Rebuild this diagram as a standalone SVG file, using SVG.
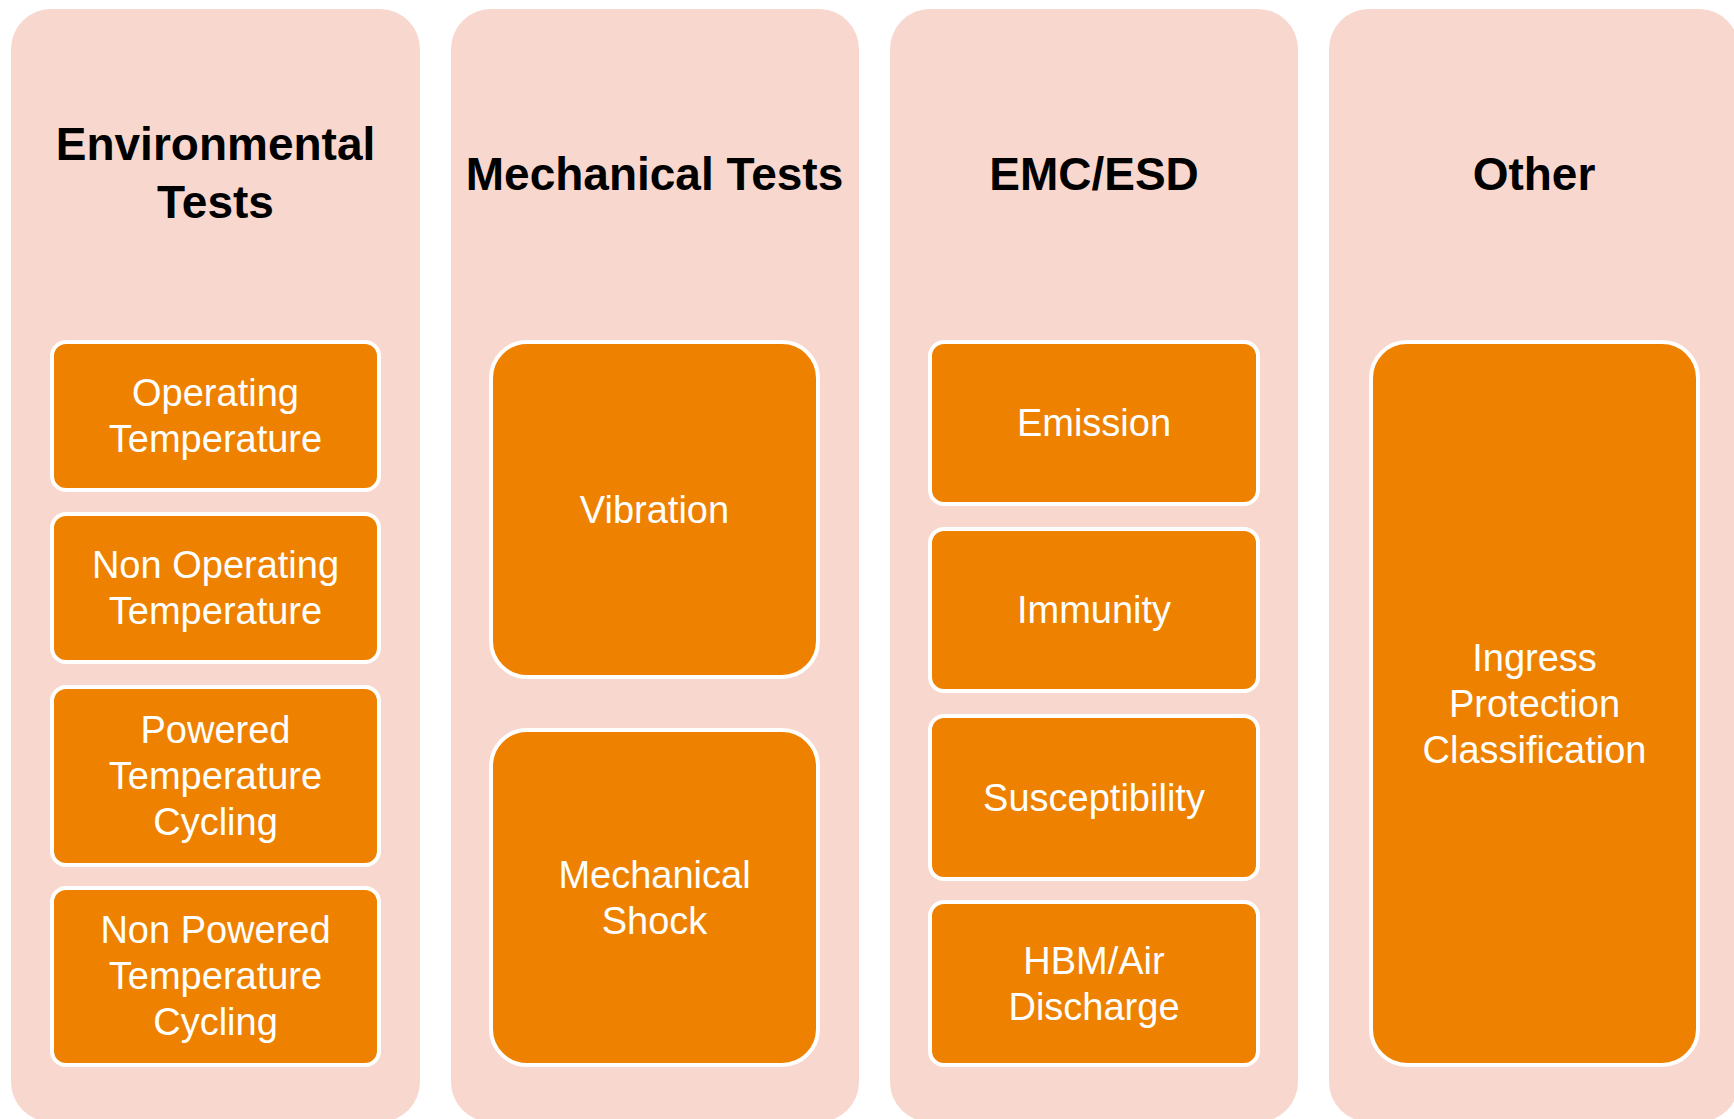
<svg xmlns="http://www.w3.org/2000/svg" width="1734" height="1119" viewBox="0 0 1734 1119">
<style>
.col{fill:#F8D8CE;}
.box{fill:#EE8200;stroke:#FFFFFF;stroke-width:4;}
.title{font-family:"Liberation Sans",Arial,sans-serif;font-weight:bold;font-size:46px;fill:#000000;text-anchor:middle;}
.lbl{font-family:"Liberation Sans",Arial,sans-serif;font-size:38px;fill:#FFFFFF;text-anchor:middle;}
</style>
<rect x="0" y="0" width="1734" height="1119" fill="#FFFFFF"/>
<g id="connectors"></g>
<g id="col-environmental">
<rect class="col" x="11" y="9" width="409" height="1113" rx="40"/>
<text class="title" x="215.5"><tspan x="215.5" y="160">Environmental</tspan><tspan x="215.5" y="218">Tests</tspan></text>
</g>
<g id="col-mechanical">
<rect class="col" x="451" y="9" width="408" height="1113" rx="40"/>
<text class="title" x="654.5" y="190">Mechanical Tests</text>
</g>
<g id="col-emc">
<rect class="col" x="890" y="9" width="408" height="1113" rx="40"/>
<text class="title" x="1094" y="190">EMC/ESD</text>
</g>
<g id="col-other">
<rect class="col" x="1329" y="9" width="410" height="1113" rx="40"/>
<text class="title" x="1534" y="190">Other</text>
</g>
<g id="node-operating-temperature">
<rect class="box" x="52" y="342" width="327" height="148" rx="14"/>
<text class="lbl"><tspan x="215.5" y="406">Operating</tspan><tspan x="215.5" y="452">Temperature</tspan></text>
</g>
<g id="node-non-operating-temperature">
<rect class="box" x="52" y="514" width="327" height="148" rx="14"/>
<text class="lbl"><tspan x="215.5" y="578">Non Operating</tspan><tspan x="215.5" y="624">Temperature</tspan></text>
</g>
<g id="node-powered-temperature-cycling">
<rect class="box" x="52" y="687" width="327" height="178" rx="14"/>
<text class="lbl"><tspan x="215.5" y="743">Powered</tspan><tspan x="215.5" y="789">Temperature</tspan><tspan x="215.5" y="835">Cycling</tspan></text>
</g>
<g id="node-non-powered-temperature-cycling">
<rect class="box" x="52" y="888" width="327" height="177" rx="14"/>
<text class="lbl"><tspan x="215.5" y="943">Non Powered</tspan><tspan x="215.5" y="989">Temperature</tspan><tspan x="215.5" y="1035">Cycling</tspan></text>
</g>
<g id="node-vibration">
<rect class="box" x="491" y="342" width="327" height="335" rx="36"/>
<text class="lbl" x="654.5" y="523">Vibration</text>
</g>
<g id="node-mechanical-shock">
<rect class="box" x="491" y="730" width="327" height="335" rx="36"/>
<text class="lbl"><tspan x="654.5" y="888">Mechanical</tspan><tspan x="654.5" y="934">Shock</tspan></text>
</g>
<g id="node-emission">
<rect class="box" x="930" y="342" width="328" height="162" rx="14"/>
<text class="lbl" x="1094" y="436">Emission</text>
</g>
<g id="node-immunity">
<rect class="box" x="930" y="529" width="328" height="162" rx="14"/>
<text class="lbl" x="1094" y="623">Immunity</text>
</g>
<g id="node-susceptibility">
<rect class="box" x="930" y="716" width="328" height="163" rx="14"/>
<text class="lbl" x="1094" y="811">Susceptibility</text>
</g>
<g id="node-hbm-air-discharge">
<rect class="box" x="930" y="902" width="328" height="163" rx="14"/>
<text class="lbl"><tspan x="1094" y="974">HBM/Air</tspan><tspan x="1094" y="1020">Discharge</tspan></text>
</g>
<g id="node-ingress-protection">
<rect class="box" x="1371" y="342" width="327" height="723" rx="36"/>
<text class="lbl"><tspan x="1534.5" y="671">Ingress</tspan><tspan x="1534.5" y="717">Protection</tspan><tspan x="1534.5" y="763">Classification</tspan></text>
</g>
</svg>
